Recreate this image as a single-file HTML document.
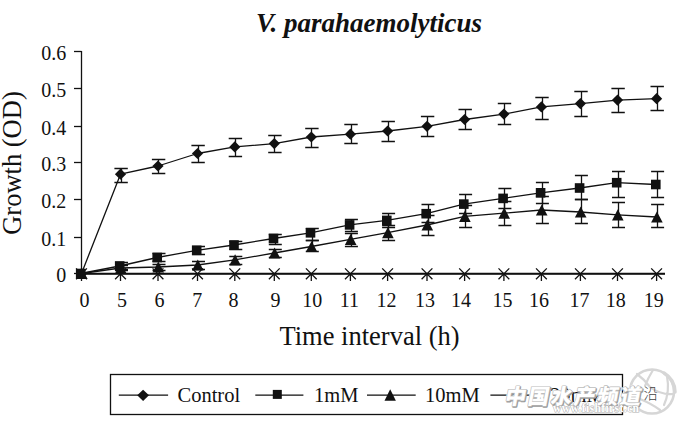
<!DOCTYPE html>
<html><head><meta charset="utf-8"><style>
html,body{margin:0;padding:0;background:#fff;width:681px;height:421px;overflow:hidden}
svg{display:block}
</style></head><body>
<svg width="681" height="421" viewBox="0 0 681 421">
<rect width="681" height="421" fill="#fff"/>
<text x="256" y="31.6" font-family="Liberation Serif, serif" font-size="27" font-weight="bold" font-style="italic" fill="#111">V. parahaemolyticus</text>
<text transform="translate(20.5,234.8) rotate(-90)" font-family="Liberation Serif, serif" font-size="26.5" fill="#111">Growth (OD)</text>
<text x="279.5" y="344.5" font-family="Liberation Serif, serif" font-size="26.5" fill="#111">Time interval (h)</text>
<g font-family="Liberation Serif, serif" font-size="20" fill="#111" text-anchor="end">
<text x="66.3" y="281.5">0</text>
<text x="66.3" y="245.5">0.1</text>
<text x="66.3" y="207.5">0.2</text>
<text x="66.3" y="170.5">0.3</text>
<text x="66.3" y="134.5">0.4</text>
<text x="66.3" y="96.5">0.5</text>
<text x="66.3" y="59.5">0.6</text>
</g>
<g font-family="Liberation Serif, serif" font-size="20" fill="#111" text-anchor="middle">
<text x="84.5" y="306.5">0</text>
<text x="122.1" y="306.5">5</text>
<text x="159.5" y="306.5">6</text>
<text x="197.2" y="306.5">7</text>
<text x="233.6" y="306.5">8</text>
<text x="275.4" y="306.5">9</text>
<text x="312.3" y="306.5">10</text>
<text x="349.5" y="306.5">11</text>
<text x="386.5" y="306.5">12</text>
<text x="425" y="306.5">13</text>
<text x="461" y="306.5">14</text>
<text x="502.5" y="306.5">15</text>
<text x="539" y="306.5">16</text>
<text x="579.4" y="306.5">17</text>
<text x="615.7" y="306.5">18</text>
<text x="653.8" y="306.5">19</text>
</g>
<g stroke="#111" stroke-width="1.3" fill="none">
<path d="M81.5 51V274"/>
<path d="M74 273.5H81.5"/>
<path d="M74 237.5H81.5"/>
<path d="M74 199.5H81.5"/>
<path d="M74 162.5H81.5"/>
<path d="M74 126.5H81.5"/>
<path d="M74 88.5H81.5"/>
<path d="M74 51.5H81.5"/>
<path d="M81 273.5H665"/><path d="M81 274.2H665"/>
</g>
<g stroke="#111" stroke-width="1.3" fill="none" stroke-linejoin="round">
<polyline points="81.5,273.5 120.5,174.2 158.0,166.0 197.5,153.5 234.8,146.9 274.3,143.6 311.3,137.0 350.4,134.2 387.6,131.0 427.0,126.3 464.6,119.5 503.9,114.1 541.4,106.9 580.4,103.6 617.5,100.1 656.6,98.7"/>
<polyline points="80.7,273.5 119.7,266.0 157.2,257.5 196.7,250.3 234.0,245.0 273.5,238.5 310.5,232.8 349.6,224.9 386.8,220.4 426.2,213.7 463.8,204.1 503.1,198.4 540.6,192.8 579.6,188.0 616.7,182.7 655.8,184.5"/>
<polyline points="81.5,273.5 120.5,268.0 158.0,267.0 197.5,265.0 234.8,259.9 274.3,253.0 311.3,246.5 350.4,239.4 387.6,232.7 427.0,225.0 464.6,216.4 503.9,213.2 541.4,210.0 580.4,212.0 617.5,214.8 656.6,217.0"/>
<path d="M121.5 168.5V182.5M114.4 168.5H127.8M114.4 182.5H127.8"/>
<path d="M158.5 159.5V173.5M151.9 159.5H165.3M151.9 173.5H165.3"/>
<path d="M198.5 145.5V162.5M191.4 145.5H204.8M191.4 162.5H204.8"/>
<path d="M235.5 138.5V156.5M228.7 138.5H242.1M228.7 156.5H242.1"/>
<path d="M274.5 135.5V152.5M268.2 135.5H281.6M268.2 152.5H281.6"/>
<path d="M311.5 128.5V147.5M305.2 128.5H318.6M305.2 147.5H318.6"/>
<path d="M351.5 124.5V143.5M344.3 124.5H357.7M344.3 143.5H357.7"/>
<path d="M388.5 121.5V141.5M381.5 121.5H394.9M381.5 141.5H394.9"/>
<path d="M427.5 116.5V136.5M420.9 116.5H434.3M420.9 136.5H434.3"/>
<path d="M465.5 109.5V129.5M458.5 109.5H471.9M458.5 129.5H471.9"/>
<path d="M504.5 103.5V124.5M497.8 103.5H511.2M497.8 124.5H511.2"/>
<path d="M542.5 97.5V119.5M535.3 97.5H548.7M535.3 119.5H548.7"/>
<path d="M581.5 91.5V116.5M574.3 91.5H587.7M574.3 116.5H587.7"/>
<path d="M618.5 88.5V112.5M611.4 88.5H624.8M611.4 112.5H624.8"/>
<path d="M657.5 86.5V110.5M650.5 86.5H663.9M650.5 110.5H663.9"/>
<path d="M121.5 262.5V269.5M115.0 262.5H128.0M115.0 269.5H128.0"/>
<path d="M159.5 253.5V261.5M152.5 253.5H165.5M152.5 261.5H165.5"/>
<path d="M198.5 246.5V254.5M192.0 246.5H205.0M192.0 254.5H205.0"/>
<path d="M235.5 241.5V249.5M229.3 241.5H242.3M229.3 249.5H242.3"/>
<path d="M275.5 234.5V244.5M268.8 234.5H281.8M268.8 244.5H281.8"/>
<path d="M312.5 228.5V240.5M305.8 228.5H318.8M305.8 240.5H318.8"/>
<path d="M351.5 219.5V231.5M344.9 219.5H357.9M344.9 231.5H357.9"/>
<path d="M388.5 213.5V227.5M382.1 213.5H395.1M382.1 227.5H395.1"/>
<path d="M428.5 204.5V222.5M421.5 204.5H434.5M421.5 222.5H434.5"/>
<path d="M465.5 194.5V213.5M459.1 194.5H472.1M459.1 213.5H472.1"/>
<path d="M504.5 188.5V208.5M498.4 188.5H511.4M498.4 208.5H511.4"/>
<path d="M542.5 182.5V203.5M535.9 182.5H548.9M535.9 203.5H548.9"/>
<path d="M581.5 175.5V199.5M574.9 175.5H587.9M574.9 199.5H587.9"/>
<path d="M618.5 171.5V197.5M612.0 171.5H625.0M612.0 197.5H625.0"/>
<path d="M657.5 171.5V197.5M651.1 171.5H664.1M651.1 197.5H664.1"/>
<path d="M121.5 265.5V270.5M115.0 265.5H128.0M115.0 270.5H128.0"/>
<path d="M159.5 264.5V270.5M152.5 264.5H165.5M152.5 270.5H165.5"/>
<path d="M198.5 261.5V269.5M192.0 261.5H205.0M192.0 269.5H205.0"/>
<path d="M235.5 256.5V264.5M229.3 256.5H242.3M229.3 264.5H242.3"/>
<path d="M275.5 249.5V257.5M268.8 249.5H281.8M268.8 257.5H281.8"/>
<path d="M312.5 240.5V251.5M305.8 240.5H318.8M305.8 251.5H318.8"/>
<path d="M351.5 233.5V246.5M344.9 233.5H357.9M344.9 246.5H357.9"/>
<path d="M388.5 225.5V240.5M382.1 225.5H395.1M382.1 240.5H395.1"/>
<path d="M428.5 215.5V235.5M421.5 215.5H434.5M421.5 235.5H434.5"/>
<path d="M465.5 205.5V227.5M459.1 205.5H472.1M459.1 227.5H472.1"/>
<path d="M504.5 201.5V225.5M498.4 201.5H511.4M498.4 225.5H511.4"/>
<path d="M542.5 196.5V223.5M535.9 196.5H548.9M535.9 223.5H548.9"/>
<path d="M581.5 199.5V223.5M574.9 199.5H587.9M574.9 223.5H587.9"/>
<path d="M618.5 202.5V227.5M612.0 202.5H625.0M612.0 227.5H625.0"/>
<path d="M657.5 204.5V227.5M651.1 204.5H664.1M651.1 227.5H664.1"/>
<path d="M76.1 268.4L86.9 279.2M86.9 268.4L76.1 279.2M81.5 273.8V281.0"/>
<path d="M115.1 268.4L125.9 279.2M125.9 268.4L115.1 279.2M120.5 273.8V281.0"/>
<path d="M152.6 268.4L163.4 279.2M163.4 268.4L152.6 279.2M158.0 273.8V281.0"/>
<path d="M192.1 268.4L202.9 279.2M202.9 268.4L192.1 279.2M197.5 273.8V281.0"/>
<path d="M229.4 268.4L240.2 279.2M240.2 268.4L229.4 279.2M234.8 273.8V281.0"/>
<path d="M268.9 268.4L279.7 279.2M279.7 268.4L268.9 279.2M274.3 273.8V281.0"/>
<path d="M305.9 268.4L316.7 279.2M316.7 268.4L305.9 279.2M311.3 273.8V281.0"/>
<path d="M345.0 268.4L355.8 279.2M355.8 268.4L345.0 279.2M350.4 273.8V281.0"/>
<path d="M382.2 268.4L393.0 279.2M393.0 268.4L382.2 279.2M387.6 273.8V281.0"/>
<path d="M421.6 268.4L432.4 279.2M432.4 268.4L421.6 279.2M427.0 273.8V281.0"/>
<path d="M459.2 268.4L470.0 279.2M470.0 268.4L459.2 279.2M464.6 273.8V281.0"/>
<path d="M498.5 268.4L509.3 279.2M509.3 268.4L498.5 279.2M503.9 273.8V281.0"/>
<path d="M536.0 268.4L546.8 279.2M546.8 268.4L536.0 279.2M541.4 273.8V281.0"/>
<path d="M575.0 268.4L585.8 279.2M585.8 268.4L575.0 279.2M580.4 273.8V281.0"/>
<path d="M612.1 268.4L622.9 279.2M622.9 268.4L612.1 279.2M617.5 273.8V281.0"/>
<path d="M651.2 268.4L662.0 279.2M662.0 268.4L651.2 279.2M656.6 273.8V281.0"/>
</g>
<g fill="#111">
<path d="M81.8 267.9L87.6 279.1L76.0 279.1Z"/>
<path d="M120.8 262.4L126.6 273.6L115.0 273.6Z"/>
<path d="M158.3 261.4L164.1 272.6L152.5 272.6Z"/>
<path d="M197.8 259.4L203.6 270.6L192.0 270.6Z"/>
<path d="M235.1 254.3L240.9 265.5L229.3 265.5Z"/>
<path d="M274.6 247.4L280.4 258.6L268.8 258.6Z"/>
<path d="M311.6 240.9L317.4 252.1L305.8 252.1Z"/>
<path d="M350.7 233.8L356.5 245.0L344.9 245.0Z"/>
<path d="M387.9 227.1L393.7 238.3L382.1 238.3Z"/>
<path d="M427.3 219.4L433.1 230.6L421.5 230.6Z"/>
<path d="M464.9 210.8L470.7 222.0L459.1 222.0Z"/>
<path d="M504.2 207.6L510.0 218.8L498.4 218.8Z"/>
<path d="M541.7 204.4L547.5 215.6L535.9 215.6Z"/>
<path d="M580.7 206.4L586.5 217.6L574.9 217.6Z"/>
<path d="M617.8 209.2L623.6 220.4L612.0 220.4Z"/>
<path d="M656.9 211.4L662.7 222.6L651.1 222.6Z"/>
<path d="M81.5 267.9L87.1 273.5L81.5 279.1L75.9 273.5Z"/>
<path d="M120.5 168.6L126.1 174.2L120.5 179.8L114.9 174.2Z"/>
<path d="M158.0 160.4L163.6 166.0L158.0 171.6L152.4 166.0Z"/>
<path d="M197.5 147.9L203.1 153.5L197.5 159.1L191.9 153.5Z"/>
<path d="M234.8 141.3L240.4 146.9L234.8 152.5L229.2 146.9Z"/>
<path d="M274.3 138.0L279.9 143.6L274.3 149.2L268.7 143.6Z"/>
<path d="M311.3 131.4L316.9 137.0L311.3 142.6L305.7 137.0Z"/>
<path d="M350.4 128.6L356.0 134.2L350.4 139.8L344.8 134.2Z"/>
<path d="M387.6 125.4L393.2 131.0L387.6 136.6L382.0 131.0Z"/>
<path d="M427.0 120.7L432.6 126.3L427.0 131.9L421.4 126.3Z"/>
<path d="M464.6 113.9L470.2 119.5L464.6 125.1L459.0 119.5Z"/>
<path d="M503.9 108.5L509.5 114.1L503.9 119.7L498.3 114.1Z"/>
<path d="M541.4 101.3L547.0 106.9L541.4 112.5L535.8 106.9Z"/>
<path d="M580.4 98.0L586.0 103.6L580.4 109.2L574.8 103.6Z"/>
<path d="M617.5 94.5L623.1 100.1L617.5 105.7L611.9 100.1Z"/>
<path d="M656.6 93.1L662.2 98.7L656.6 104.3L651.0 98.7Z"/>
<rect x="75.9" y="268.7" width="9.6" height="9.6"/>
<rect x="114.9" y="261.2" width="9.6" height="9.6"/>
<rect x="152.4" y="252.7" width="9.6" height="9.6"/>
<rect x="191.9" y="245.5" width="9.6" height="9.6"/>
<rect x="229.2" y="240.2" width="9.6" height="9.6"/>
<rect x="268.7" y="233.7" width="9.6" height="9.6"/>
<rect x="305.7" y="228.0" width="9.6" height="9.6"/>
<rect x="344.8" y="220.1" width="9.6" height="9.6"/>
<rect x="382.0" y="215.6" width="9.6" height="9.6"/>
<rect x="421.4" y="208.9" width="9.6" height="9.6"/>
<rect x="459.0" y="199.3" width="9.6" height="9.6"/>
<rect x="498.3" y="193.6" width="9.6" height="9.6"/>
<rect x="535.8" y="188.0" width="9.6" height="9.6"/>
<rect x="574.8" y="183.2" width="9.6" height="9.6"/>
<rect x="611.9" y="177.9" width="9.6" height="9.6"/>
<rect x="651.0" y="179.7" width="9.6" height="9.6"/>
</g>
<rect x="110.5" y="374.5" width="512" height="40" fill="none" stroke="#111" stroke-width="1.3"/>
<g stroke="#111" stroke-width="1.3" fill="none">
<path d="M118.8 395.2H168.1M255.3 395.2H303.4M367 395.2H415.7M490.4 395.2H539.5"/>
<path d="M509.6 389.8L520.4 400.6M520.4 389.8L509.6 400.6M515.0 395.2V402.4"/>
</g>
<g fill="#111">
<path d="M143.1 389.7L149 395.3L143.1 400.9L137.2 395.3Z"/>
<rect x="272.8" y="389.9" width="9.0" height="9.0"/>
<path d="M390.2 389.3L395.9 400.7L384.5 400.7Z"/>
</g>
<g font-family="Liberation Serif, serif" font-size="20.5" fill="#111">
<text x="177.5" y="402">Control</text>
<text x="314" y="402">1mM</text>
<text x="425" y="402">10mM</text>
<text x="550" y="402">20mM</text>
</g>
<g fill="none" stroke="#d6d6d6" stroke-linecap="round">
<circle cx="652" cy="391.5" r="22" stroke-width="2.6"/>
<path d="M675 392A23 23 0 0 0 664 373" stroke-width="3.5"/>
<path d="M637 374Q645 380 650 387Q660 395 674 394M653 370Q648 378 645 386M667 376Q670 392 664 405M640 399Q652 404 660 410" stroke-width="2.2"/>
</g>
<g font-family="Noto Sans CJK SC, sans-serif" font-weight="900" font-size="21" letter-spacing="2" transform="translate(504 403.5) skewX(-11)">
<text x="0" y="0" fill="#fff" stroke="#fff" stroke-width="2" stroke-linejoin="round">中国水产频道</text>
<text x="1" y="1" fill="#9a9a9a" stroke="#9a9a9a" stroke-width="1.6" stroke-linejoin="round">中国水产频道</text>
<text x="0" y="0" fill="#fff" stroke="#bdbdbd" stroke-width="1.4" stroke-linejoin="round" paint-order="stroke">中国水产频道</text>
</g>
<text x="643.5" y="399" font-family="Noto Sans CJK SC, sans-serif" font-weight="300" font-size="14.5" fill="#444">沿</text>
<text x="553" y="411.5" font-family="Liberation Serif, serif" font-weight="bold" font-size="11.5" letter-spacing="0.4" fill="#fff" stroke="#b0b0b0" stroke-width="1" paint-order="stroke">www.fishfirst.cn</text>
</svg>
</body></html>
